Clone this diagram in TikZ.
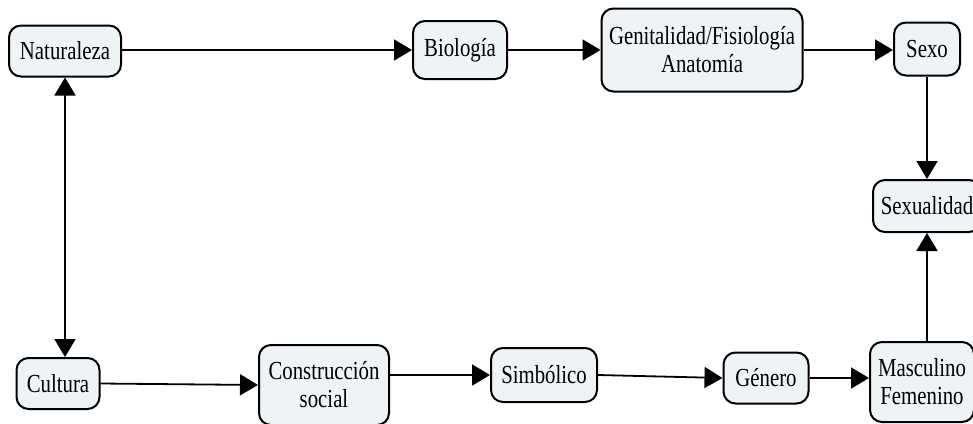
\documentclass[tikz,border=0pt]{standalone}
\usepackage{fontspec}
\setmainfont{Liberation Serif}[FakeStretch=0.8]
\usetikzlibrary{arrows.meta}
\definecolor{boxfill}{HTML}{EEF3F6}
\tikzset{
  box/.style={draw=black, line width=2pt, fill=boxfill, rounded corners=12pt,
    inner sep=0pt, align=center, font=\fontsize{26}{28}\selectfont},
  conn/.style={line width=1.8pt, -{Triangle[length=18pt,width=21pt]}},
  conn2/.style={line width=1.8pt, {Triangle[length=18pt,width=21pt]}-{Triangle[length=18pt,width=21pt]}}
}
\begin{document}
\begin{tikzpicture}[x=1pt,y=-1pt]
\useasboundingbox (0,0) rectangle (973,423);
\node[box, minimum width=112pt, minimum height=51pt] (nat) at (65,51) {Naturaleza};
\node[box, minimum width=94pt, minimum height=58pt] (bio) at (460,50) {Biología};
\node[box, minimum width=201pt, minimum height=83pt] (gen) at (702,50) {Genitalidad/Fisiología\\Anatomía};
\node[box, minimum width=66pt, minimum height=53pt] (sexo) at (927,49) {Sexo};
\node[box, minimum width=108pt, minimum height=52pt] (sexu) at (927,206) {Sexualidad};
\node[box, minimum width=83pt, minimum height=51pt] (cul) at (58,383.5) {Cultura};
\node[box, minimum width=130pt, minimum height=80pt] (cons) at (324,385) {Construcción\\social};
\node[box, minimum width=106pt, minimum height=54pt] (simb) at (544,375) {Simbólico};
\node[box, minimum width=85pt, minimum height=51pt] (gene) at (766,378) {Género};
\node[box, minimum width=104pt, minimum height=80pt] (masc) at (922,382) {Masculino\\Femenino};
\draw[conn] (nat.east |- bio.west) -- (bio.west);
\draw[conn] (bio.east) -- (gen.west);
\draw[conn] (gen.east) -- (gen.east -| sexo.west);
\draw[conn] (sexo.south -| sexu.north) -- (sexu.north);
\draw[conn] (masc.north -| sexu.south) -- (sexu.south);
\draw[conn2] (nat.south) -- (nat.south |- cul.north);
\draw[conn] (cul.east) -- (cons.west);
\draw[conn] (simb.west -| cons.east) -- (simb.west);
\draw[conn] (simb.east) -- (gene.west);
\draw[conn] (gene.east) -- (gene.east -| masc.west);
\end{tikzpicture}
\end{document}
